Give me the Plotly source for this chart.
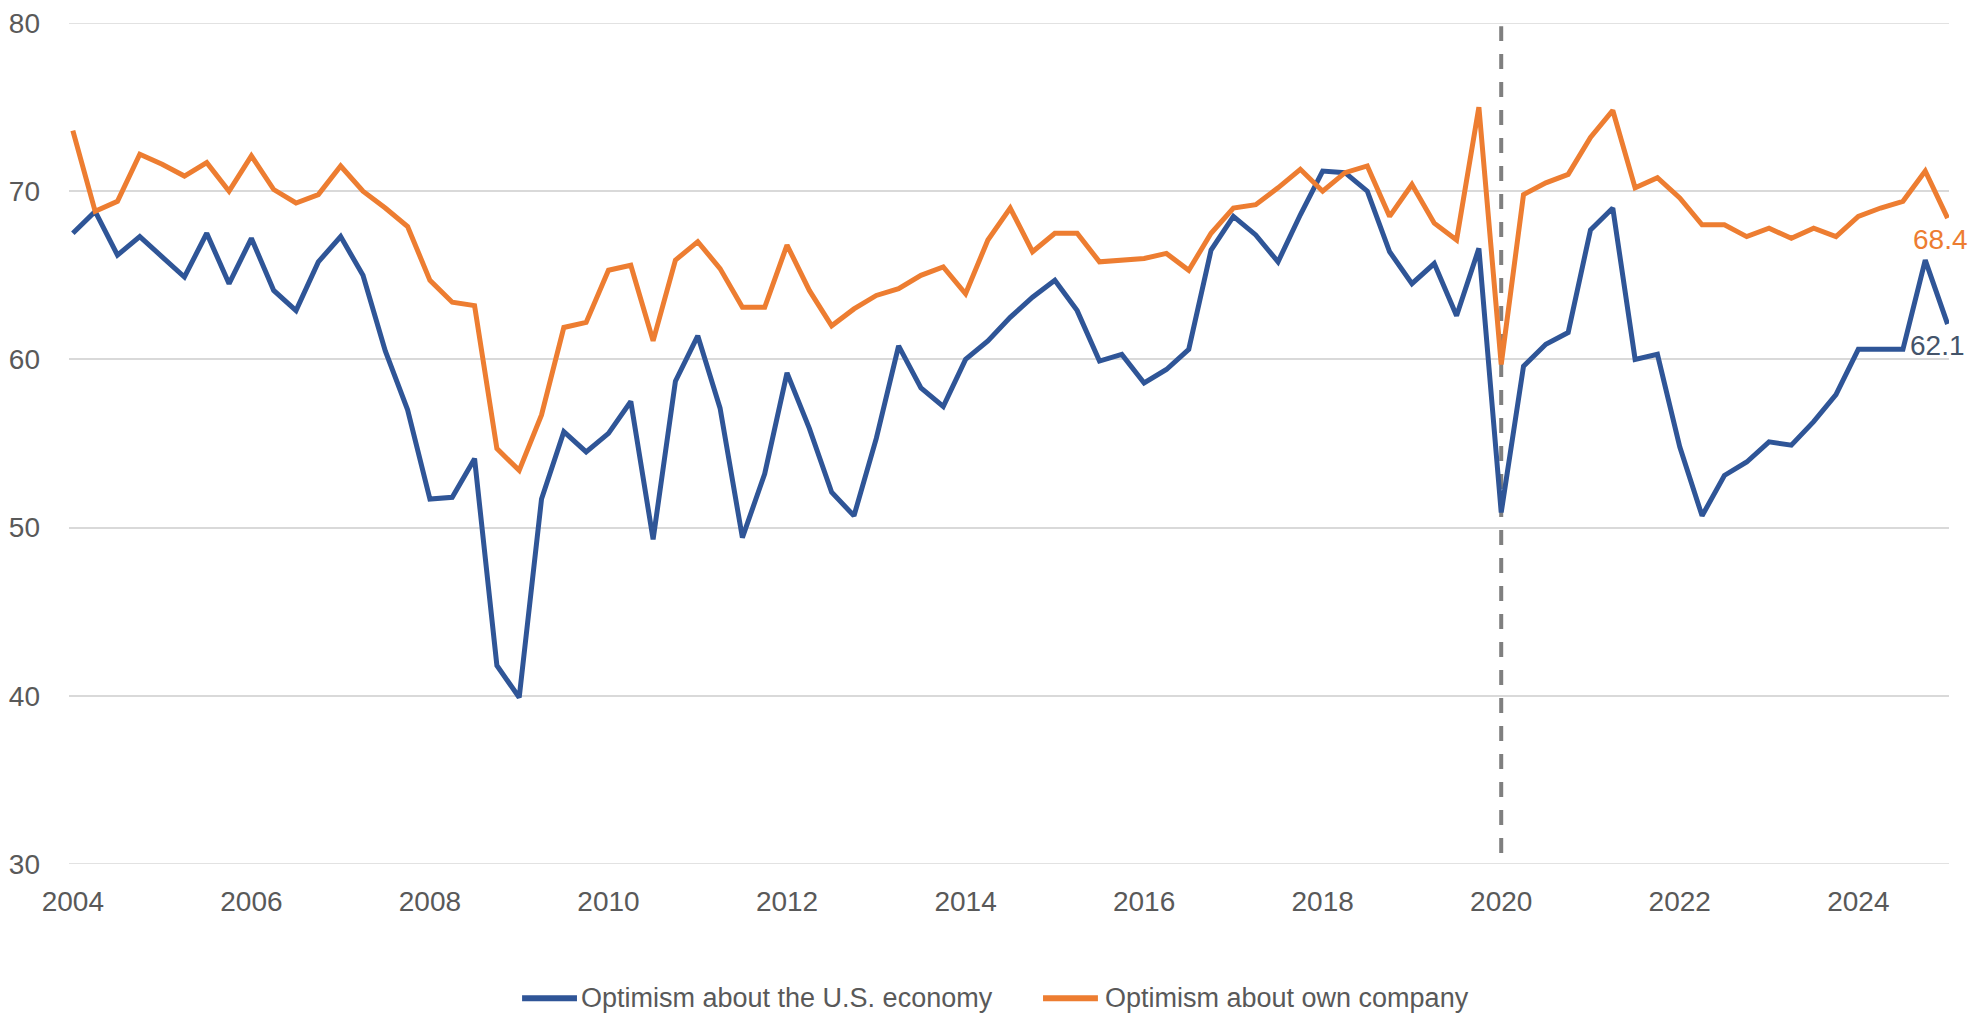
import plotly.graph_objects as go

start_year = 2004
economy = [67.5, 68.8, 66.2, 67.3, 66.1, 64.9, 67.5, 64.5, 67.2, 64.1, 62.9, 65.8, 67.3, 65.0, 60.5, 57.0,
           51.7, 51.8, 54.1, 41.8, 39.9, 51.7, 55.7, 54.5, 55.6, 57.5, 49.3, 58.7, 61.4, 57.1, 49.4, 53.2,
           59.2, 55.9, 52.1, 50.7, 55.3, 60.8, 58.3, 57.2, 60.0, 61.1, 62.5, 63.7, 64.7, 62.9, 59.9, 60.3,
           58.6, 59.4, 60.6, 66.5, 68.5, 67.4, 65.8, 68.6, 71.2, 71.1, 70.0, 66.4, 64.5, 65.7, 62.6, 66.6,
           50.9, 59.6, 60.9, 61.6, 67.7, 69.0, 60.0, 60.3, 54.8, 50.7, 53.1, 53.9, 55.1, 54.9, 56.3, 57.9,
           60.6, 60.6, 60.6, 65.9, 62.1]
own_company = [73.6, 68.8, 69.4, 72.2, 71.6, 70.9, 71.7, 70.0, 72.1, 70.1, 69.3, 69.8, 71.5, 70.0, 69.0, 67.9,
               64.7, 63.4, 63.2, 54.7, 53.4, 56.7, 61.9, 62.2, 65.3, 65.6, 61.1, 65.9, 67.0, 65.4, 63.1, 63.1,
               66.8, 64.1, 62.0, 63.0, 63.8, 64.2, 65.0, 65.5, 63.9, 67.1, 69.0, 66.4, 67.5, 67.5, 65.8, 65.9,
               66.0, 66.3, 65.3, 67.5, 69.0, 69.2, 70.2, 71.3, 70.0, 71.1, 71.5, 68.5, 70.4, 68.1, 67.1, 75.0,
               59.7, 69.8, 70.5, 71.0, 73.2, 74.8, 70.2, 70.8, 69.6, 68.0, 68.0, 67.3, 67.8, 67.2, 67.8, 67.3,
               68.5, 69.0, 69.4, 71.2, 68.4]
tick_years = [2004, 2006, 2008, 2010, 2012, 2014, 2016, 2018, 2020, 2022, 2024]
y_ticks = [30, 40, 50, 60, 70, 80]
marker_year = 2020
series_names = ["Optimism about the U.S. economy", "Optimism about own company"]

x = [start_year + i / 4 for i in range(len(economy))]

BLUE = "#2F5597"
ORANGE = "#ED7D31"
GREY_TXT = "#595959"
GRID = "#d9d9d9"
FONT = "Liberation Sans Narrow, Arial Narrow, Liberation Sans, Arial, sans-serif"
FS = 28

fig = go.Figure()
fig.add_trace(go.Scatter(x=x, y=economy, mode="lines", name=series_names[0], showlegend=False,
                         line=dict(color=BLUE, width=5), hoverinfo="x+y"))
fig.add_trace(go.Scatter(x=x, y=own_company, mode="lines", name=series_names[1], showlegend=False,
                         line=dict(color=ORANGE, width=5), hoverinfo="x+y"))

# gridlines at the range edges (plotly clips those)
for yv in (y_ticks[0], y_ticks[-1]):
    fig.add_shape(type="line", xref="paper", yref="y", x0=0, x1=1, y0=yv, y1=yv,
                  line=dict(color=GRID, width=1.5), layer="below")

fig.add_shape(type="line", xref="x", yref="y", x0=marker_year, x1=marker_year, y0=30.65, y1=79.8,
              line=dict(color="#7f7f7f", width=4, dash="15px,13px"), layer="below")

fig.add_annotation(x=x[-1], y=own_company[-1], text=f"{own_company[-1]:.1f}", showarrow=False,
                   xanchor="center", yanchor="middle", xshift=-7, yshift=-21,
                   font=dict(family=FONT, size=FS, color=ORANGE))
fig.add_annotation(x=x[-1], y=economy[-1], text=f"{economy[-1]:.1f}", showarrow=False,
                   xanchor="center", yanchor="middle", xshift=-10, yshift=-21,
                   font=dict(family=FONT, size=FS, color="#44546A"))

# legend (drawn below the plot, Excel style)
leg_y = -0.1597
leg_items = [(series_names[0], BLUE, 0.2410, 0.2702, 0.2713),
             (series_names[1], ORANGE, 0.5181, 0.5473, 0.5500)]
for name, col, sx0, sx1, tx in leg_items:
    fig.add_shape(type="line", xref="paper", yref="paper", x0=sx0, x1=sx1, y0=leg_y, y1=leg_y,
                  line=dict(color=col, width=6))
    fig.add_annotation(xref="paper", yref="paper", x=tx, y=leg_y, text=name, showarrow=False,
                       xanchor="left", yanchor="middle",
                       font=dict(family=FONT, size=27, color=GREY_TXT))

# the page body has an 8px margin: size the figure so it fits the 1988x1015 window
fig.update_layout(
    width=1980, height=1007,
    margin=dict(l=61, r=39, t=15, b=151, autoexpand=False),
    paper_bgcolor="white", plot_bgcolor="white",
    font=dict(family=FONT, size=FS, color=GREY_TXT),
    showlegend=False,
    xaxis=dict(range=[2003.957, 2025.016], tickmode="array", tickvals=tick_years,
               ticktext=[str(t) for t in tick_years], showgrid=False, zeroline=False,
               showline=False, ticks="", ticklabelstandoff=18, automargin=False,
               ticklabeloverflow="allow",
               tickfont=dict(family=FONT, size=FS, color=GREY_TXT)),
    yaxis=dict(range=[30, 80], tickmode="array", tickvals=y_ticks, showgrid=True,
               gridcolor=GRID, gridwidth=1.5, zeroline=False, showline=False, ticks="",
               ticklabelstandoff=28, automargin=False, ticklabeloverflow="allow",
               tickfont=dict(family=FONT, size=FS, color=GREY_TXT)),
)

fig.write_html("out.html")
